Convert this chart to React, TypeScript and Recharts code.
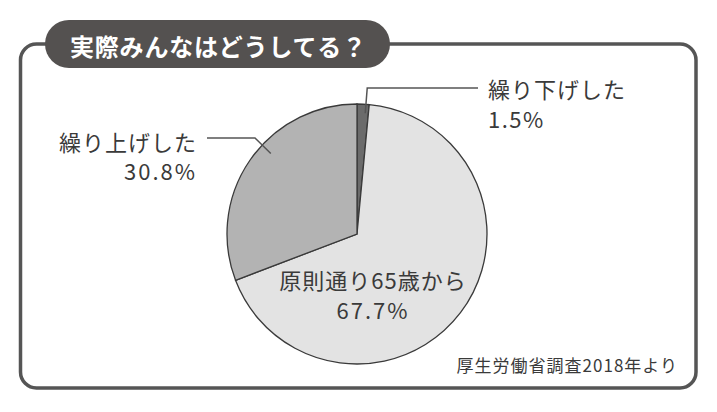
import React from 'react';
import { PieChart, Pie, Cell } from 'recharts';

const title = '実際みんなはどうしてる？';
const source = '厚生労働省調査2018年より';

const names = ['繰り下げした', '原則通り65歳から', '繰り上げした'];
const values = [1.5, 67.7, 30.8];
const colors = ['#6b6b6b', '#e3e3e3', '#b3b3b3'];

const data = names.map((name, i) => ({ name, value: values[i] }));

const W = 717;
const H = 412;
const FONT = '"Noto Sans CJK JP", "Noto Sans", sans-serif';
const INK = '#3a3a3a';
const RAD = Math.PI / 180;

const polar = (cx: number, cy: number, r: number, deg: number) => ({
  x: cx + r * Math.cos(deg * RAD),
  y: cy - r * Math.sin(deg * RAD),
});

const renderLabel = (props: any) => {
  const { cx, cy, midAngle, outerRadius, index } = props;
  const name = names[index];
  const pct = `${values[index].toFixed(1)}%`;
  const txt = { fontFamily: FONT, fontSize: 22, fill: INK, dominantBaseline: 'central' as const };

  if (index === 0) {
    // small slice: leader goes up, then right
    const p = polar(cx, cy, outerRadius - 9, midAngle - 1.2);
    const topY = cy - outerRadius - 16;
    return (
      <g key="lbl0">
        <polyline points={`${p.x},${p.y} ${p.x + 2},${topY} ${cx + 121},${topY}`} fill="none" stroke="#555" strokeWidth={1.5} />
        <text x={cx + 131} y={topY} {...txt} letterSpacing={1}>{name}</text>
        <text x={cx + 131} y={topY + 30} {...txt} letterSpacing={1.5}>{pct}</text>
      </g>
    );
  }
  if (index === 2) {
    const p = polar(cx, cy, outerRadius - 12, midAngle - 8.5);
    const lineY = cy - 96;
    return (
      <g key="lbl2">
        <polyline points={`${p.x},${p.y} ${cx - 102},${lineY} ${cx - 150},${lineY}`} fill="none" stroke="#555" strokeWidth={1.5} />
        <text x={cx - 160} y={lineY + 3} {...txt} textAnchor="end" letterSpacing={1}>{name}</text>
        <text x={cx - 160} y={lineY + 32} {...txt} textAnchor="end" letterSpacing={2}>{pct}</text>
      </g>
    );
  }
  return (
    <g key="lbl1">
      <text x={cx + 16} y={cy + 45} {...txt} textAnchor="middle" letterSpacing={1}>{name}</text>
      <text x={cx + 16} y={cy + 75} {...txt} textAnchor="middle" letterSpacing={2}>{pct}</text>
    </g>
  );
};

export default function App() {
  return (
    <div style={{ position: 'absolute', left: 0, top: 0, width: W, height: H, background: '#fff' }}>
      <svg width={W} height={H} style={{ position: 'absolute', left: 0, top: 0 }}>
        <rect x={20.5} y={44} width={675.5} height={344} rx={16} fill="#fff" stroke="#555" strokeWidth={3.5} />
        <rect x={45} y={20} width={345} height={48} rx={24} fill="#545150" />
        <text x={70} y={45} fill="#fff" fontFamily={FONT} fontSize={24} fontWeight={700} dominantBaseline="central" letterSpacing={0.8}>
          {title}
        </text>
        <text x={678} y={364} fill={INK} fontFamily={FONT} fontSize={17} textAnchor="end" dominantBaseline="central" letterSpacing={1}>
          {source}
        </text>
      </svg>
      <div style={{ position: 'absolute', left: 0, top: 0 }}>
        <PieChart width={W} height={H} margin={{ top: 0, right: 0, bottom: 0, left: 0 }}>
          <Pie
            data={data}
            dataKey="value"
            nameKey="name"
            cx={357}
            cy={234}
            outerRadius={130}
            startAngle={90}
            endAngle={-270}
            stroke="#3a3a3a"
            strokeWidth={1.3}
            label={renderLabel}
            labelLine={false}
            isAnimationActive={false}
          >
            {data.map((d, i) => (
              <Cell key={d.name} fill={colors[i]} />
            ))}
          </Pie>
        </PieChart>
      </div>
    </div>
  );
}
